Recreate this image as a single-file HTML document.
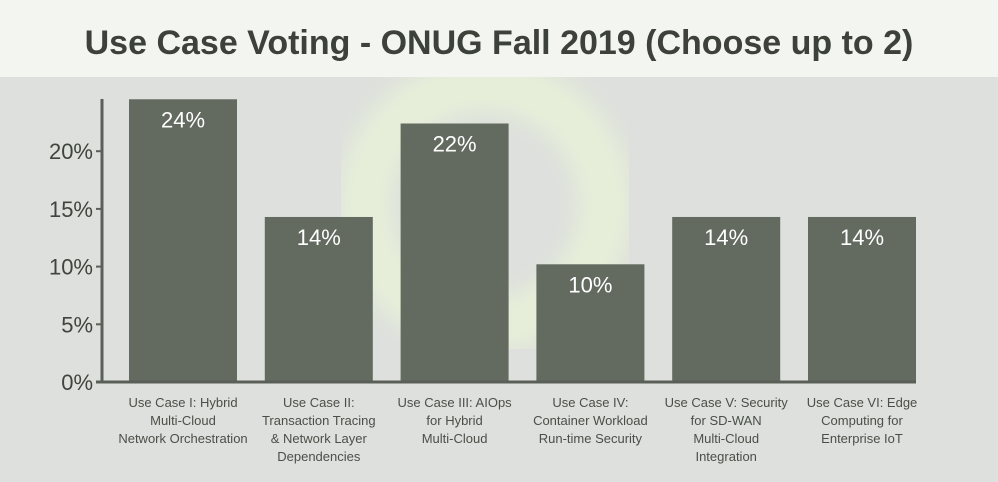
<!DOCTYPE html>
<html><head><meta charset="utf-8"><style>
body{margin:0;width:998px;height:477px;overflow:hidden;background:#dde0dc;font-family:"Liberation Sans",sans-serif}
</style></head><body>
<svg width="998" height="477" xmlns="http://www.w3.org/2000/svg">
<defs><filter id="bl"><feGaussianBlur stdDeviation="10"/></filter></defs>
<rect width="998" height="477" fill="#dde0dc"/>
<g filter="url(#bl)">
<circle cx="485" cy="205" r="120" fill="none" stroke="#e6eed9" stroke-width="55"/>
</g>
<rect width="998" height="77" fill="#f3f6f0"/>
<text x="499" y="54" text-anchor="middle" font-size="34" font-weight="bold" fill="#3c423a">Use Case Voting - ONUG Fall 2019 (Choose up to 2)</text>
<g id="plot"></g>
</svg>
<script>
const categories=[["Use Case I: Hybrid","Multi-Cloud","Network Orchestration"],["Use Case II:","Transaction Tracing","& Network Layer","Dependencies"],["Use Case III: AIOps","for Hybrid","Multi-Cloud"],["Use Case IV:","Container Workload","Run-time Security"],["Use Case V: Security","for SD-WAN","Multi-Cloud","Integration"],["Use Case VI: Edge","Computing for","Enterprise IoT"]];
const values=[24.5,14.3,22.4,10.2,14.3,14.3];
const valueLabels=["24%","14%","22%","10%","14%","14%"];
const yTicks=[0,5,10,15,20];
const ns="http://www.w3.org/2000/svg";
const g=document.getElementById('plot');
const y0=382,kY=11.54,x0=129,step=135.8,bw=108;
const y=v=>y0-v*kY;
function mk(t,a,txt){const e=document.createElementNS(ns,t);for(const k in a)e.setAttribute(k,a[k]);if(txt!=null)e.textContent=txt;g.appendChild(e);return e;}
values.forEach((v,i)=>{
 const r=mk('rect',{x:x0+i*step,y:y(v),width:bw,height:y0-y(v),fill:'#636a5f'});
 
 
 const t=mk('text',{x:x0+i*step+bw/2,y:y(v)+28,'text-anchor':'middle','font-size':22,fill:'#ffffff'},valueLabels[i]);
 
 
 categories[i].forEach((ln,j)=>{
  const c=mk('text',{x:x0+i*step+bw/2,y:407+j*18,'text-anchor':'middle','font-size':13,fill:'#4a4f48'},ln);
  
  
 });
});
yTicks.forEach(v=>{
 const tk=mk('line',{x1:96,x2:102,y1:y(v),y2:y(v),stroke:'#5a5f57','stroke-width':2});
 
 
 const t=mk('text',{x:93,y:y(v)+8,'text-anchor':'end','font-size':22,fill:'#3f453d'},v+'%');
 
 
});
const ya=mk('line',{x1:102,x2:102,y1:99,y2:383,stroke:'#5a5f57','stroke-width':3});


const xa=mk('line',{x1:96,x2:916,y1:382,y2:382,stroke:'#5a5f57','stroke-width':3});


</script>
</body></html>
